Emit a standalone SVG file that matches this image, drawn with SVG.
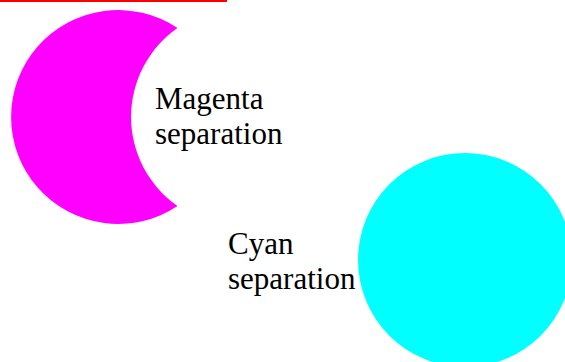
<svg xmlns="http://www.w3.org/2000/svg" width="565" height="362" viewBox="0 0 565 362">
<style>
.lbl{font-family:"Liberation Serif","Times New Roman",serif;font-size:31px;fill:#000}
</style>
<rect width="565" height="362" fill="#fff"/>
<rect id="rule" x="0" y="0" width="227" height="2" fill="#ff0000"/>
<g id="magenta">
<path d="M177.5,28 A107,107 0 1 0 177.5,206 A108.5,108.5 0 0 1 177.5,28 Z" fill="#ff00ff"/>
</g>
<g id="cyan">
<circle cx="465" cy="260" r="107" fill="#00ffff"/>
</g>
<g id="labels">
<text class="lbl" x="155" y="109">Magenta</text>
<text class="lbl" x="155" y="144">separation</text>
<text class="lbl" x="228" y="254">Cyan</text>
<text class="lbl" x="228" y="289">separation</text>
</g>
</svg>
